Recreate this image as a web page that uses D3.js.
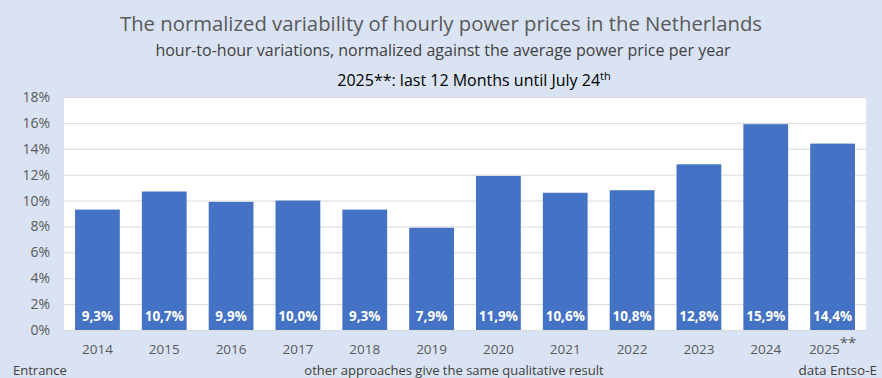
<!DOCTYPE html>
<html><head><meta charset="utf-8">
<script src="https://cdn.jsdelivr.net/npm/d3@7"></script>
<style>
html,body{margin:0;padding:0;background:#dae3f3;}
svg{display:block;font-family:"Open Sans",sans-serif;}
</style></head>
<body><svg id="c" width="882" height="378"></svg>
<script>
const years = ["2014","2015","2016","2017","2018","2019","2020","2021","2022","2023","2024","2025"];
const values = [9.3,10.7,9.9,10.0,9.3,7.9,11.9,10.6,10.8,12.8,15.9,14.4];
const yTicks = [0,2,4,6,8,10,12,14,16,18];

const svg = d3.select("#c");
svg.append("rect").attr("width",882).attr("height",378).attr("fill","#dae3f3");
const L=64,R=866,T=97,B=330;
svg.append("rect").attr("x",L).attr("y",T).attr("width",R-L).attr("height",B-T).attr("fill","#fff");
const x = d3.scaleBand().domain(years).range([L,R]).paddingInner(0.33).paddingOuter(0.165);
const y = d3.scaleLinear().domain([0,18]).range([B,T]);

const gy = svg.append("g").attr("transform",`translate(${L},0)`)
  .call(d3.axisLeft(y).tickValues(yTicks).tickFormat(d=>d+"%").tickSize(-(R-L)).tickPadding(14));
gy.select(".domain").remove();
gy.selectAll(".tick line").attr("stroke","#d9d9d9").attr("stroke-width",1);
gy.selectAll(".tick text").attr("fill","#595959").style("font-size","14px").style("font-family","'Open Sans',sans-serif");

svg.selectAll("rect.bar").data(values).enter().append("rect").attr("class","bar")
  .attr("x",(d,i)=>x(years[i])).attr("width",x.bandwidth())
  .attr("y",d=>y(d)).attr("height",d=>B-y(d)).attr("fill","#4472c4");

svg.selectAll("text.val").data(values).enter().append("text").attr("class","val")
  .attr("x",(d,i)=>x(years[i])+x.bandwidth()/2).attr("y",B-9)
  .attr("text-anchor","middle").attr("fill","#fff").attr("font-weight","bold").style("font-size","13.5px")
  .text(d=>d.toFixed(1).replace(".",",")+"%");

const gx = svg.append("g").attr("transform",`translate(0,${B})`)
  .call(d3.axisBottom(x).tickSize(0).tickPadding(14));
gx.select(".domain").attr("stroke","#d9d9d9");
gx.selectAll(".tick text").attr("fill","#595959").style("font-size","13.5px").style("font-family","'Open Sans',sans-serif");
gx.selectAll(".tick text").filter(d=>d==="2025").each(function(){
  d3.select(this).append("tspan").attr("dy","-6").style("font-size","15px").text("**");
});

svg.append("text").attr("x",441).attr("y",31).attr("text-anchor","middle").attr("fill","#595959").style("font-size","20.3px")
  .text("The normalized variability of hourly power prices in the Netherlands");
svg.append("text").attr("x",443).attr("y",56).attr("text-anchor","middle").attr("fill","#404040").style("font-size","16px")
  .text("hour-to-hour variations, normalized against the average power price per year");
const t3 = svg.append("text").attr("x",474).attr("y",86).attr("text-anchor","middle").attr("fill","#000").style("font-size","16px");
t3.append("tspan").text("2025**: last 12 Months until July 24");
t3.append("tspan").attr("dy","-6").style("font-size","11px").text("th");

svg.append("text").attr("x",13).attr("y",375).attr("fill","#404040").style("font-size","13px").text("Entrance");
svg.append("text").attr("x",454).attr("y",375).attr("text-anchor","middle").attr("fill","#404040").style("font-size","13px").text("other approaches give the same qualitative result");
svg.append("text").attr("x",877).attr("y",375).attr("text-anchor","end").attr("fill","#404040").style("font-size","13.5px").text("data Entso-E");
</script></body></html>
